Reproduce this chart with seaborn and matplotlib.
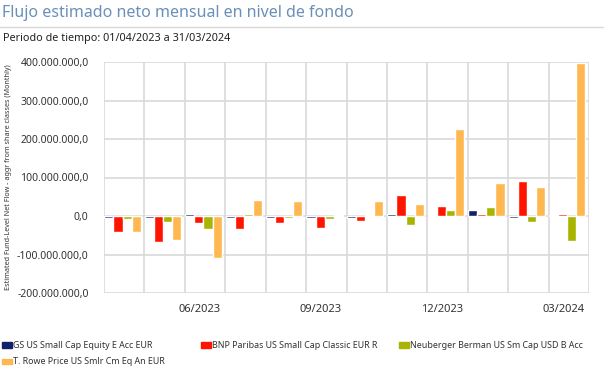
import matplotlib
matplotlib.use("Agg")
import matplotlib.pyplot as plt
from matplotlib.lines import Line2D
from matplotlib.patches import Patch
import matplotlib.ticker as mticker
import numpy as np
import pandas as pd
import seaborn as sns

# datos (millones)
months = ["04/2023", "05/2023", "06/2023", "07/2023", "08/2023", "09/2023",
          "10/2023", "11/2023", "12/2023", "01/2024", "02/2024", "03/2024"]
funds = ["GS US Small Cap Equity E Acc EUR",
         "BNP Paribas US Small Cap Classic EUR R",
         "Neuberger Berman US Sm Cap USD B Acc",
         "T. Rowe Price US Smlr Cm Eq An EUR"]
gs = [-4, -4, 4, -4, -4, -4, -4, 5, 3, 16, -5, 3]
bnp = [-41, -68, -18, -33, -18, -31, -12, 55, 26, 5, 92, 5]
nb = [-7, -15, -33, 6, -4, -7, 3, -23, 16, 24, -16, -66]
trowe = [-41, -63, -110, 42, 39, 3, 39, 32, 226, 87, 76, 398]
colors = ["#13216A", "#FF1400", "#A8B400", "#FFB84F"]
shown_ticks = ["06/2023", "09/2023", "12/2023", "03/2024"]

sns.set_style("white")
plt.rcParams['font.family'] = ['Noto Sans', 'DejaVu Sans']

df = pd.DataFrame({"mes": months * 4,
                   "fondo": np.repeat(funds, len(months)),
                   "valor": np.array(gs + bnp + nb + trowe) * 1e6})

fig = plt.figure(figsize=(6.04, 3.75), dpi=100)
ax = fig.add_axes([104 / 604, 1 - 293 / 375, 485 / 604, 231 / 375])

sns.barplot(data=df, x="mes", y="valor", hue="fondo", palette=colors,
            width=0.9, saturation=1, ax=ax, legend=False, zorder=3)

# los grupos quedan un poco a la izquierda dentro de cada mes
off = 0.04
ax.set_ylim(-200e6, 400e6)
ax.set_xlim(-0.5 + off, len(months) - 0.5 + off)
ax.yaxis.set_major_locator(mticker.MultipleLocator(100e6))
ax.yaxis.set_major_formatter(mticker.FuncFormatter(
    lambda v, p: f"{v:,.1f}".replace(",", "X").replace(".", ",").replace("X", ".")))

# rejilla vertical entre meses, etiquetas trimestrales (alineadas a la derecha del mes)
ax.set_xticks(np.arange(-0.5, len(months), 1) + off, minor=True)
pos = [months.index(m) + 0.5 + off - 0.12 for m in shown_ticks]
ax.set_xticks(pos)
ax.set_xticklabels(shown_ticks, ha="right")
ax.tick_params(axis="x", which="major", length=0, pad=8, labelsize=8, labelcolor="#333333")
ax.tick_params(axis="x", which="minor", length=5, color="#d9d9d9", width=1.2)
ax.tick_params(axis="y", length=8, color="#d9d9d9", width=1.2, labelsize=7.5,
               labelcolor="#333333", pad=3)
ax.grid(axis="y", color="#d9d9d9", lw=1.2, zorder=0)
ax.grid(axis="x", which="minor", color="#d9d9d9", lw=1.2, zorder=0)
for s in ax.spines.values():
    s.set_visible(False)
ax.set_xlabel("")
ax.set_ylabel("Estimated Fund-Level Net Flow - aggr from share classes (Monthly)",
              fontsize=5.2, color="#333333", labelpad=4)
ax.yaxis.set_label_coords(-0.19, 0.5)

fig.text(0.004, 0.965, "Flujo estimado neto mensual en nivel de fondo",
         fontsize=11.5, color="#6A8FB8", va="center")
fig.add_artist(Line2D([0, 1], [1 - 27 / 375] * 2, color="#d9d9d9", lw=1))
fig.text(0.005, 0.897, "Periodo de tiempo: 01/04/2023 a 31/03/2024",
         fontsize=7.8, color="#222222", va="center")

# leyenda: una entrada por posición, como en el original
leg_xy = [(2, 345.5), (201, 345.5), (399, 345.5), (2, 362)]
for name, c, (lx, ly) in zip(funds, colors, leg_xy):
    lg = fig.legend([Patch(color=c)], [name], loc="center left",
                    bbox_to_anchor=(lx / 604, 1 - ly / 375), frameon=False,
                    fontsize=6.4, handlelength=1.12, handleheight=0.56,
                    handletextpad=0.1, borderpad=0, borderaxespad=0)
    lg.get_texts()[0].set_color("#333333")

fig.savefig("out.png", dpi=100)
